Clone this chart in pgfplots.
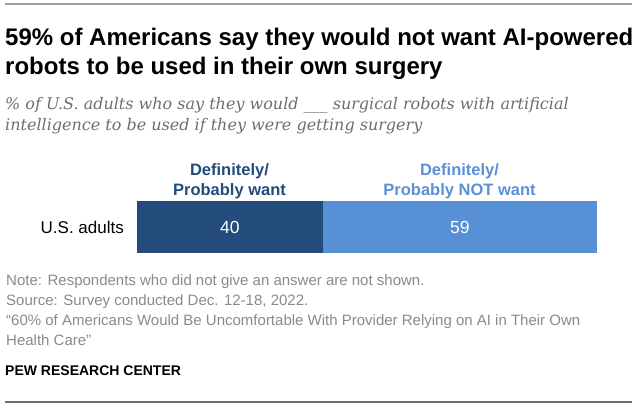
\documentclass[border=0pt]{standalone}
\usepackage{fontspec}
\usepackage{pgfplots}
\pgfplotsset{compat=1.18}
\setmainfont{Liberation Sans}
\newfontfamily\subfont{DejaVu Serif}

\definecolor{darkblue}{HTML}{234B7C}
\definecolor{lightblue}{HTML}{5790D5}
\definecolor{headlight}{HTML}{5B8FD6}
\definecolor{subgray}{HTML}{6E6E6E}
\definecolor{notegray}{HTML}{8A8A8A}
\definecolor{rulegray}{HTML}{A0A0A0}

\begin{document}
\begin{tikzpicture}
\useasboundingbox (0,0) rectangle (639pt,-408pt);

% rules
\draw[rulegray, line width=1.2pt] (5pt,-4pt) -- (632pt,-4pt);
\draw[rulegray!70!black, line width=1.2pt] (5pt,-402pt) -- (632pt,-402pt);

% title and subtitle
\node[anchor=base west, inner sep=0pt] at (5pt,-45pt)
  {\bfseries\fontsize{24}{28}\selectfont 59\% of Americans say they would not want AI-powered};
\node[anchor=base west, inner sep=0pt] at (5pt,-74pt)
  {\bfseries\fontsize{24}{28}\selectfont robots to be used in their own surgery};
\node[anchor=base west, inner sep=0pt, text=subgray] at (5pt,-109pt)
  {\subfont\itshape\fontsize{16}{18}\selectfont \% of U.S. adults who say they would \_\_\_ surgical robots with artificial};
\node[anchor=base west, inner sep=0pt, text=subgray] at (5pt,-130pt)
  {\subfont\itshape\fontsize{16}{18}\selectfont intelligence to be used if they were getting surgery};

% column headers
\node[anchor=base, inner sep=0pt, text=darkblue] at (229.5pt,-175pt)
  {\bfseries\fontsize{16.5}{19}\selectfont Definitely/};
\node[anchor=base, inner sep=0pt, text=darkblue] at (229.5pt,-195pt)
  {\bfseries\fontsize{16.5}{19}\selectfont Probably want};
\node[anchor=base, inner sep=0pt, text=headlight] at (459.5pt,-175pt)
  {\bfseries\fontsize{16.5}{19}\selectfont Definitely/};
\node[anchor=base, inner sep=0pt, text=headlight] at (459.5pt,-195pt)
  {\bfseries\fontsize{16.5}{19}\selectfont Probably NOT want};

\begin{axis}[
    at={(137pt,-253pt)}, anchor=south west,
    scale only axis, width=460pt, height=52pt,
    xbar stacked, bar width=52pt,
    xmin=0, xmax=99, ymin=-0.5, ymax=0.5,
    enlargelimits=false, hide axis, clip=false,
]
\addplot[fill=darkblue, draw=none] coordinates {(40,0)};
\addplot[fill=lightblue, draw=none] coordinates {(59,0)};
\coordinate (want) at (axis cs:20,0);
\coordinate (notwant) at (axis cs:69.5,0);
\coordinate (cat) at (axis cs:-3,0);
\end{axis}
\node[text=white, font=\fontsize{17.5}{20}\selectfont] at (want) {40};
\node[text=white, font=\fontsize{17.5}{20}\selectfont] at (notwant) {59};
\node[anchor=east, inner sep=0pt, font=\fontsize{17}{20}\selectfont] at ([xshift=1pt]cat) {U.S. adults};

% notes
\begin{scope}[every node/.style={anchor=base west, inner sep=0pt, text=notegray, font=\fontsize{15}{18}\selectfont}]
\node at (6pt,-285pt) {Note: Respondents who did not give an answer are not shown.};
\node at (6pt,-305pt) {Source: Survey conducted Dec. 12-18, 2022.};
\node at (6pt,-325.5pt) {“60\% of Americans Would Be Uncomfortable With Provider Relying on AI in Their Own};
\node at (6pt,-345pt) {Health Care”};
\end{scope}
\node[anchor=base west, inner sep=0pt] at (5pt,-375pt)
  {\bfseries\fontsize{14}{18}\selectfont PEW RESEARCH CENTER};
\end{tikzpicture}
\end{document}
